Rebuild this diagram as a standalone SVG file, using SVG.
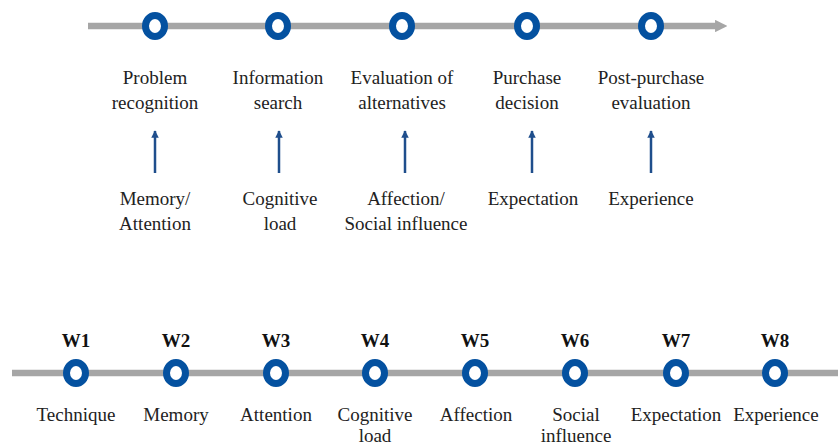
<svg xmlns="http://www.w3.org/2000/svg" width="838" height="447" viewBox="0 0 838 447">
  <defs>
    <style>
      .bar { stroke: #A6A6A6; stroke-width: 6.5; fill: none; }
      .dot { fill: #FFFFFF; stroke: #0451A0; stroke-width: 7; }
      .lbl { font-size: 19px; fill: #222222; text-anchor: middle; }
      .wk { font-size: 19px; font-weight: bold; fill: #111111; text-anchor: middle; }
      .up { stroke: #1F4E8C; stroke-width: 2.5; fill: none; }
    </style>
    <marker id="head" viewBox="0 0 10 10" refX="9" refY="5" markerWidth="3.2" markerHeight="3" orient="auto" markerUnits="strokeWidth">
      <path d="M0,0 L10,5 L0,10 z" fill="#1F4E8C"/>
    </marker>
    <marker id="grayhead" viewBox="0 0 10 10" refX="4" refY="5" markerWidth="1.9" markerHeight="1.9" orient="auto" markerUnits="strokeWidth">
      <path d="M0,0 L10,5 L0,10 z" fill="#A6A6A6"/>
    </marker>
  </defs>

  <!-- decision process timeline and influence arrows -->
  <g id="connectors">
    <line class="bar" x1="88" y1="26" x2="720" y2="26" marker-end="url(#grayhead)"/>
    <line class="bar" x1="12" y1="373" x2="838" y2="373"/>
    <line class="up" x1="155" y1="173" x2="155" y2="131" marker-end="url(#head)"/>
    <line class="up" x1="279" y1="173" x2="279" y2="131" marker-end="url(#head)"/>
    <line class="up" x1="405" y1="173" x2="405" y2="131" marker-end="url(#head)"/>
    <line class="up" x1="532" y1="173" x2="532" y2="131" marker-end="url(#head)"/>
    <line class="up" x1="651" y1="173" x2="651" y2="131" marker-end="url(#head)"/>
  </g>

  <g font-family="Liberation Serif, Times New Roman, DejaVu Serif, serif">
  <g id="stage1">
    <ellipse class="dot" cx="155" cy="26" rx="9.5" ry="10.5"/>
    <text class="lbl" x="155" y="84">Problem</text>
    <text class="lbl" x="155" y="109">recognition</text>
  </g>
  <g id="stage2">
    <ellipse class="dot" cx="278" cy="26" rx="9.5" ry="10.5"/>
    <text class="lbl" x="278" y="84">Information</text>
    <text class="lbl" x="278" y="109">search</text>
  </g>
  <g id="stage3">
    <ellipse class="dot" cx="402" cy="26" rx="9.5" ry="10.5"/>
    <text class="lbl" x="402" y="84">Evaluation of</text>
    <text class="lbl" x="402" y="109">alternatives</text>
  </g>
  <g id="stage4">
    <ellipse class="dot" cx="527" cy="26" rx="9.5" ry="10.5"/>
    <text class="lbl" x="527" y="84">Purchase</text>
    <text class="lbl" x="527" y="109">decision</text>
  </g>
  <g id="stage5">
    <ellipse class="dot" cx="651" cy="26" rx="9.5" ry="10.5"/>
    <text class="lbl" x="651" y="84">Post-purchase</text>
    <text class="lbl" x="651" y="109">evaluation</text>
  </g>

  <g id="factor1">
    <text class="lbl" x="155" y="205">Memory/</text>
    <text class="lbl" x="155" y="230">Attention</text>
  </g>
  <g id="factor2">
    <text class="lbl" x="280" y="205">Cognitive</text>
    <text class="lbl" x="280" y="230">load</text>
  </g>
  <g id="factor3">
    <text class="lbl" x="406" y="205">Affection/</text>
    <text class="lbl" x="406" y="230">Social influence</text>
  </g>
  <g id="factor4">
    <text class="lbl" x="533" y="205">Expectation</text>
  </g>
  <g id="factor5">
    <text class="lbl" x="651" y="205">Experience</text>
  </g>

  <!-- weekly timeline -->
  <g id="w1">
    <text class="wk" x="76" y="347">W1</text>
    <ellipse class="dot" cx="76" cy="373" rx="9.5" ry="10.5"/>
    <text class="lbl" x="76" y="421">Technique</text>
  </g>
  <g id="w2">
    <text class="wk" x="176" y="347">W2</text>
    <ellipse class="dot" cx="176" cy="373" rx="9.5" ry="10.5"/>
    <text class="lbl" x="176" y="421">Memory</text>
  </g>
  <g id="w3">
    <text class="wk" x="276" y="347">W3</text>
    <ellipse class="dot" cx="276" cy="373" rx="9.5" ry="10.5"/>
    <text class="lbl" x="276" y="421">Attention</text>
  </g>
  <g id="w4">
    <text class="wk" x="375" y="347">W4</text>
    <ellipse class="dot" cx="375" cy="373" rx="9.5" ry="10.5"/>
    <text class="lbl" x="375" y="421">Cognitive</text>
    <text class="lbl" x="375" y="442">load</text>
  </g>
  <g id="w5">
    <text class="wk" x="475" y="347">W5</text>
    <ellipse class="dot" cx="475" cy="373" rx="9.5" ry="10.5"/>
    <text class="lbl" x="476" y="421">Affection</text>
  </g>
  <g id="w6">
    <text class="wk" x="575" y="347">W6</text>
    <ellipse class="dot" cx="575" cy="373" rx="9.5" ry="10.5"/>
    <text class="lbl" x="576" y="421">Social</text>
    <text class="lbl" x="576" y="442">influence</text>
  </g>
  <g id="w7">
    <text class="wk" x="676" y="347">W7</text>
    <ellipse class="dot" cx="676" cy="373" rx="9.5" ry="10.5"/>
    <text class="lbl" x="676" y="421">Expectation</text>
  </g>
  <g id="w8">
    <text class="wk" x="775" y="347">W8</text>
    <ellipse class="dot" cx="775" cy="373" rx="9.5" ry="10.5"/>
    <text class="lbl" x="776" y="421">Experience</text>
  </g>
  </g>
</svg>
